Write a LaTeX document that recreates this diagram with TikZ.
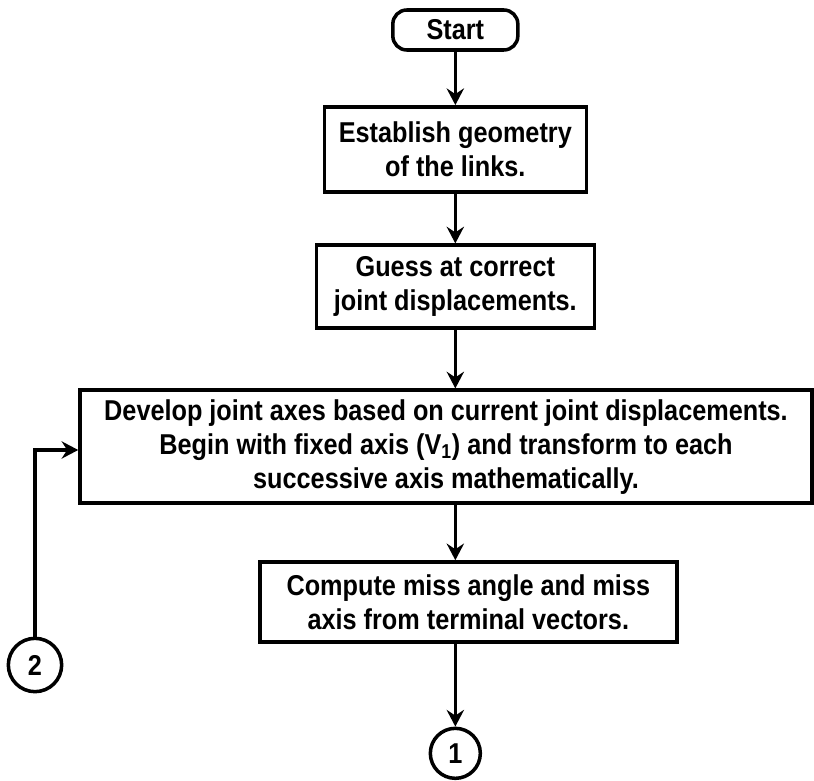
\documentclass[tikz,border=0pt]{standalone}
\usepackage{fontspec}
\setmainfont{Liberation Sans}[FakeStretch=0.88]
\usetikzlibrary{arrows.meta}

\begin{document}
\begin{tikzpicture}[font=\fontsize{24.5}{29}\selectfont\bfseries, line width=3pt,
  >={Stealth[length=0.5cm, width=0.52cm, inset=0.17cm]},
  terminal/.style={draw, rounded corners=0.42cm, minimum width=3.75cm, minimum height=1.2cm, inner sep=0pt},
  stepbox/.style={draw, align=center, inner sep=0pt},
  conn/.style={draw, circle, inner sep=0pt},
  flow/.style={->}]
\useasboundingbox (0,0) rectangle (24.42,23.4);
\node[terminal] (start) at (13.66,22.5) {Start};
\node[stepbox, minimum width=7.86cm, minimum height=2.55cm] (geom) at (13.66,18.92)
  {Establish geometry\\of the links.};
\node[stepbox, minimum width=8.34cm, minimum height=2.49cm] (guess) at (13.66,14.8)
  {Guess at correct\\joint displacements.};
\node[stepbox, minimum width=21.96cm, minimum height=3.39cm] (axes) at (13.38,10.0)
  {Develop joint axes based on current joint displacements.\\
   Begin with fixed axis (V\textsubscript{1}) and transform to each\\
   successive axis mathematically.};
\node[stepbox, minimum width=12.51cm, minimum height=2.4cm] (miss) at (14.05,5.34)
  {Compute miss angle and miss\\axis from terminal vectors.};
\node[conn, minimum size=1.5cm] (c1) at (13.66,0.8) {1};
\node[conn, minimum size=1.6cm] (c2) at (1.05,3.45) {2};
% main line down the page
\draw[flow] (start) -- (geom);
\draw[flow] (geom) -- (guess);
\draw[flow] (guess) -- (guess |- axes.north);
\draw[flow] (axes.south -| guess) -- (guess |- miss.north);
\draw[flow] (miss.south -| c1) -- (c1);
% re-entry from connector 2
\draw[flow] (c2) |- ([yshift=-0.1cm]axes.west);
\end{tikzpicture}
\end{document}
